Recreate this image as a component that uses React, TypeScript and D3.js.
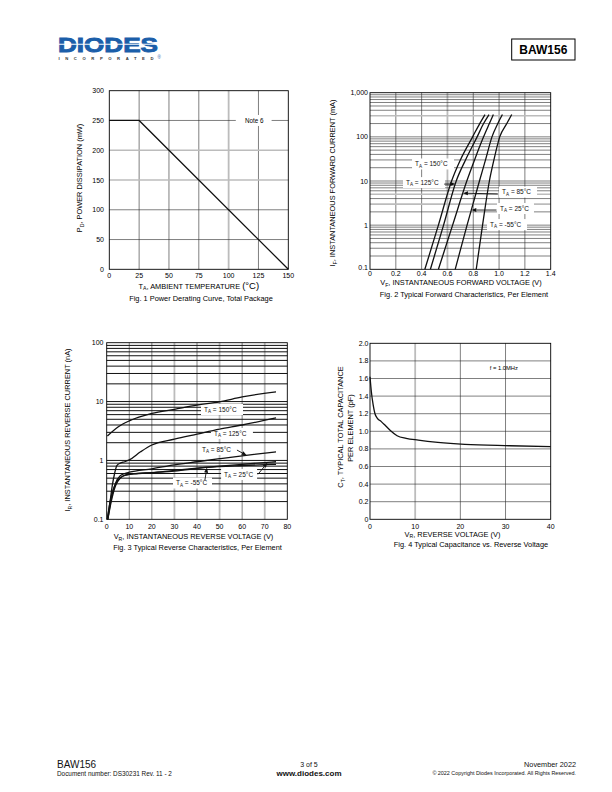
import React from 'react';
import * as d3 from 'd3';

const FONT = "'Liberation Sans', Arial, Helvetica, sans-serif";

// ---------- Fig. 1 Power derating ----------
const fig1Temp = [0, 25, 150];
const fig1Power = [250, 250, 0];
const fig1XTicks = [0, 25, 50, 75, 100, 125, 150];
const fig1YTicks = [0, 50, 100, 150, 200, 250, 300];

// ---------- Fig. 2 Forward characteristics (I in mA, V in volts) ----------
const fig2Current = [0.1, 1, 10, 30, 100, 200, 320];
const fig2V150 = [0.425, 0.53, 0.632, 0.7, 0.795, 0.85, 0.891];
const fig2V125 = [0.468, 0.57, 0.668, 0.74, 0.83, 0.88, 0.922];
const fig2V85 = [0.53, 0.64, 0.75, 0.81, 0.88, 0.925, 0.956];
const fig2V25 = [0.66, 0.752, 0.848, 0.895, 0.945, 0.99, 1.026];
const fig2Vm55 = [0.823, 0.872, 0.925, 0.96, 1.005, 1.06, 1.098];
const fig2XTicks = [0, 0.2, 0.4, 0.6, 0.8, 1.0, 1.2, 1.4];
const fig2YTicks = [0.1, 1, 10, 100, 1000];
const fig2YTickLabels = ['0.1', '1', '10', '100', '1,000'];

// ---------- Fig. 3 Reverse characteristics (V in volts, I in nA) ----------
const fig3V150 = [0.3, 5, 10, 20, 30, 40, 50, 60, 75];
const fig3I150 = [2.6, 3.7, 4.7, 6.3, 7.4, 8.7, 9.9, 12.0, 14.6];
const fig3V125 = [0.3, 1.5, 2.5, 3.5, 4.5, 6, 8, 10, 15, 20, 30, 40, 50, 60, 75];
const fig3I125 = [0.1, 0.2, 0.38, 0.6, 0.82, 0.9, 0.95, 1.02, 1.4, 1.83, 2.3, 2.8, 3.4, 4.0, 5.3];
const fig3V85 = [0.5, 2, 4, 6, 8, 10, 20, 30, 40, 50, 60, 75];
const fig3I85 = [0.1, 0.22, 0.42, 0.55, 0.6, 0.63, 0.72, 0.84, 0.95, 1.07, 1.2, 1.4];
const fig3V25 = [0.5, 2, 4, 6, 8, 10, 20, 30, 40, 50, 60, 75];
const fig3I25 = [0.1, 0.2, 0.38, 0.5, 0.56, 0.58, 0.62, 0.68, 0.74, 0.8, 0.86, 0.95];
const fig3Vm55 = [0.3, 1.5, 3, 5, 7, 9, 12, 20, 30, 44, 60, 75];
const fig3Im55 = [0.1, 0.2, 0.33, 0.46, 0.54, 0.57, 0.59, 0.62, 0.66, 0.76, 0.82, 0.86];
const fig3XTicks = [0, 10, 20, 30, 40, 50, 60, 70, 80];
const fig3YTicks = [0.1, 1, 10, 100];
const fig3YTickLabels = ['0.1', '1', '10', '100'];

// ---------- Fig. 4 Capacitance ----------
const fig4V = [0, 0.3, 0.7, 1.1, 1.6, 2.5, 3.5, 4.5, 6, 8, 10.7, 15, 21, 31, 40];
const fig4C = [1.62, 1.45, 1.3, 1.2, 1.15, 1.11, 1.06, 1.01, 0.95, 0.92, 0.9, 0.875, 0.852, 0.836, 0.825];
const fig4XTicks = [0, 10, 20, 30, 40];
const fig4YTicks = [0, 0.2, 0.4, 0.6, 0.8, 1.0, 1.2, 1.4, 1.6, 1.8, 2.0];

type Pt = [number, number];
const zip = (a: number[], b: number[]): Pt[] => a.map((v, i) => [v, b[i]]);

const DARK = '#2a2a2a';
const GRAY = '#bcbcbc';

function Sub({ s, size }: { s: string; size: number }) {
  return <tspan fontSize={size * 0.7} dy={size * 0.25}>{s}</tspan>;
}

function TaLabel({ x, y, t, w }: { x: number; y: number; t: string; w: number }) {
  return (
    <g>
      <rect x={x - 3} y={y - 5.5} width={w} height={11} fill="white" />
      <text x={x} y={y + 2.2} fontSize={6.5} fill="#111">
        T<tspan fontSize={4.6} dy={1.4}>A</tspan>
        <tspan dy={-1.4}>{` = ${t}°C`}</tspan>
      </text>
    </g>
  );
}

function Arrow({ x1, y1, x2, y2 }: { x1: number; y1: number; x2: number; y2: number }) {
  const a = Math.atan2(y2 - y1, x2 - x1);
  const L = 5, W = 2;
  const bx = x2 - L * Math.cos(a), by = y2 - L * Math.sin(a);
  const px = -Math.sin(a) * W, py = Math.cos(a) * W;
  return (
    <g>
      <line x1={x1} y1={y1} x2={bx} y2={by} stroke="#111" strokeWidth={0.9} />
      <path d={`M${x2},${y2}L${bx + px},${by + py}L${bx - px},${by - py}Z`} fill="#111" />
    </g>
  );
}

function Header() {
  return (
    <g>
      <text x={58} y={52} fontSize={21} fontWeight={900} fill="#1b5ea9" stroke="#1b5ea9" strokeWidth={0.9}
        textLength={100} lengthAdjust="spacingAndGlyphs">DIODES</text>
      <line x1={58} x2={158} y1={44.3} y2={44.3} stroke="white" strokeWidth={1.1} />
      <text x={58.5} y={60.3} fontSize={4.2} fill="#333" textLength={95} lengthAdjust="spacing" fontWeight={700}>INCORPORATED</text>
      <text x={157.5} y={58.5} fontSize={4.5} fill="#1b5ea9">®</text>
      <rect x={511.7} y={39} width={63.3} height={21} fill="none" stroke="#000" strokeWidth={1} />
      <text x={543.3} y={54.2} fontSize={12} fontWeight={700} textAnchor="middle">BAW156</text>
    </g>
  );
}

function Footer() {
  return (
    <g fill="#111">
      <text x={57} y={767.5} fontSize={10}>BAW156</text>
      <text x={57} y={775.8} fontSize={6.4}>Document number: DS30231 Rev. 11 - 2</text>
      <text x={309} y={766.8} fontSize={7} textAnchor="middle">3 of 5</text>
      <text x={309} y={775.5} fontSize={8} fontWeight={700} textAnchor="middle">www.diodes.com</text>
      <text x={576} y={766.8} fontSize={7.3} textAnchor="end">November 2022</text>
      <text x={576} y={774.8} fontSize={5.4} textAnchor="end">© 2022 Copyright Diodes Incorporated. All Rights Reserved.</text>
    </g>
  );
}

function Frame({ x, y }: { x: any; y: any }) {
  const [x0, x1] = x.range();
  const [y0, y1] = y.range();
  return <rect x={x0} y={y1} width={x1 - x0} height={y0 - y1} fill="none" stroke="#000" strokeWidth={0.9} />;
}

function VGrid({ x, y, vals, gray }: { x: any; y: any; vals: number[]; gray: number[] }) {
  const [y0, y1] = y.range();
  return (
    <g>
      {vals.map((v) => (
        <line key={v} x1={x(v)} x2={x(v)} y1={y0} y2={y1}
          stroke={gray.includes(v) ? GRAY : DARK}
          strokeWidth={gray.includes(v) ? 1.8 : 0.6} />
      ))}
    </g>
  );
}

function HGrid({ x, y, vals, gray, w = 0.6, col = DARK }: { x: any; y: any; vals: number[]; gray: number[]; w?: number; col?: string }) {
  const [x0, x1] = x.range();
  return (
    <g>
      {vals.map((v) => (
        <line key={v} y1={y(v)} y2={y(v)} x1={x0} x2={x1}
          stroke={gray.some((g) => Math.abs(g - v) < 1e-9) ? GRAY : col}
          strokeWidth={gray.some((g) => Math.abs(g - v) < 1e-9) ? 1.6 : w} />
      ))}
    </g>
  );
}

export default function App() {
  // Fig 1 scales
  const x1 = d3.scaleLinear().domain([0, 150]).range([109.3, 288.3]);
  const y1 = d3.scaleLinear().domain([0, 300]).range([269.3, 90.7]);
  const line1 = d3.line<Pt>().x((d) => x1(d[0])).y((d) => y1(d[1]));

  // Fig 2 scales
  const x2 = d3.scaleLinear().domain([0, 1.4]).range([370, 550.7]);
  const y2 = d3.scaleLog().domain([0.1, 1000]).range([269.3, 92.7]);
  const line2 = d3.line<Pt>().x((d) => x2(d[0])).y((d) => y2(d[1])).curve(d3.curveMonotoneX);

  // Fig 3 scales
  const x3 = d3.scaleLinear().domain([0, 80]).range([106.7, 287.3]);
  const y3 = d3.scaleLog().domain([0.1, 100]).range([519.3, 342.7]);
  const line3 = d3.line<Pt>().x((d) => x3(d[0])).y((d) => y3(d[1])).curve(d3.curveMonotoneX);

  // Fig 4 scales
  const x4 = d3.scaleLinear().domain([0, 40]).range([370, 550.7]);
  const y4 = d3.scaleLinear().domain([0, 2]).range([519.3, 343.3]);
  const line4 = d3.line<Pt>().x((d) => x4(d[0])).y((d) => y4(d[1])).curve(d3.curveMonotoneX);

  const fig2Curves = [fig2V150, fig2V125, fig2V85, fig2V25, fig2Vm55].map((vs) => zip(vs, fig2Current));
  const fig3Curves = [
    zip(fig3V150, fig3I150), zip(fig3V125, fig3I125), zip(fig3V85, fig3I85),
    zip(fig3V25, fig3I25), zip(fig3Vm55, fig3Im55),
  ];

  const tick = 7;
  const title = 7.4;

  return (
    <svg width={612} height={792} style={{ position: 'absolute', left: 0, top: 0 }} fontFamily={FONT}>
      <rect width={612} height={792} fill="white" />
      <Header />

      {/* ================= Fig 1 ================= */}
      <g>
        <VGrid x={x1} y={y1} vals={fig1XTicks.slice(1, -1)} gray={[100]} />
        <HGrid x={x1} y={y1} vals={fig1YTicks.slice(1, -1)} gray={[150, 200]} />
        <rect x={x1(106)} y={y1(250) - 5.5} width={x1(136) - x1(106)} height={11} fill="white" />
        <text x={x1(121.5)} y={y1(250) + 2.3} fontSize={6.3} textAnchor="middle">Note 6</text>
        <path d={line1(zip(fig1Temp, fig1Power)) || ''} fill="none" stroke="#111" strokeWidth={1.3} />
        <Frame x={x1} y={y1} />
        {fig1YTicks.map((v) => (
          <text key={v} x={104} y={y1(v) + 2.5} fontSize={tick} textAnchor="end">{v}</text>
        ))}
        {fig1XTicks.map((v) => (
          <text key={v} x={x1(v)} y={277.6} fontSize={tick} textAnchor="middle">{v}</text>
        ))}
        <text transform="translate(82,178) rotate(-90)" fontSize={title} textAnchor="middle">
          P<Sub s="D" size={title} /><tspan dy={-title * 0.25}>, POWER DISSIPATION (mW)</tspan>
        </text>
        <text x={198.8} y={288.6} fontSize={title} textAnchor="middle">
          T<Sub s="A" size={title} /><tspan dy={-title * 0.25}>, AMBIENT TEMPERATURE </tspan>
          <tspan fontSize={9.5}>(°C)</tspan>
        </text>
        <text x={201} y={300.8} fontSize={title} textAnchor="middle">Fig. 1  Power Derating Curve, Total Package</text>
      </g>

      {/* ================= Fig 2 ================= */}
      <g>
        <VGrid x={x2} y={y2} vals={fig2XTicks.slice(1, -1)} gray={[0.6]} />
        <HGrid x={x2} y={y2} vals={y2.ticks().filter((v: number) => v > 0.1 && v < 1000)} gray={[3, 5, 300]} />
        <Frame x={x2} y={y2} />
        <TaLabel x={x2(0.349)} y={y2(24.3)} t="150" w={42} />
        <TaLabel x={x2(0.279)} y={y2(9.2)} t="125" w={42} />
        <TaLabel x={x2(1.023)} y={y2(5.6)} t="85" w={38} />
        <TaLabel x={x2(1.007)} y={y2(2.38)} t="25" w={37} />
        <TaLabel x={x2(0.93)} y={y2(1.03)} t="-55" w={40} />
        {fig2Curves.map((c, i) => (
          <path key={i} d={line2(c) || ''} fill="none" stroke="#111" strokeWidth={1.3} />
        ))}
        <Arrow x1={x2(0.575)} y1={y2(8.5)} x2={x2(0.661)} y2={y2(8.5)} />
        <Arrow x1={x2(0.99)} y1={y2(5.1)} x2={x2(0.72)} y2={y2(5.3)} />
        <Arrow x1={x2(0.98)} y1={y2(2.2)} x2={x2(0.785)} y2={y2(2.2)} />
        {fig2YTicks.map((v, i) => (
          <text key={v} x={368} y={y2(v) + 2.5 - (i === 0 ? 1.5 : 0)} fontSize={tick} textAnchor="end">{fig2YTickLabels[i]}</text>
        ))}
        {fig2XTicks.map((v) => (
          <text key={v} x={x2(v)} y={276.3} fontSize={tick} textAnchor="middle">{v === 0 ? '0' : v.toFixed(1)}</text>
        ))}
        <text transform="translate(335.4,183) rotate(-90)" fontSize={title} textAnchor="middle">
          I<Sub s="F" size={title} /><tspan dy={-title * 0.25}>, INSTANTANEOUS FORWARD CURRENT (mA)</tspan>
        </text>
        <text x={461} y={285} fontSize={title} textAnchor="middle">
          V<Sub s="F" size={title} /><tspan dy={-title * 0.25}>, INSTANTANEOUS FORWARD VOLTAGE (V)</tspan>
        </text>
        <text x={464} y={297} fontSize={title} textAnchor="middle">Fig. 2  Typical Forward Characteristics, Per Element</text>
      </g>

      {/* ================= Fig 3 ================= */}
      <g>
        <VGrid x={x3} y={y3} vals={fig3XTicks.slice(1, -1)} gray={[30, 50, 70]} />
        <HGrid x={x3} y={y3} vals={y3.ticks().filter((v: number) => v > 0.1 && v < 100)} gray={[]} w={1} col="#111" />
        <Frame x={x3} y={y3} />
        <TaLabel x={x3(43.1)} y={y3(7.33)} t="150" w={42} />
        <TaLabel x={x3(47.5)} y={y3(2.87)} t="125" w={42} />
        <TaLabel x={x3(42.2)} y={y3(1.53)} t="85" w={37} />
        <TaLabel x={x3(52)} y={y3(0.577)} t="25" w={36} />
        <TaLabel x={x3(30.7)} y={y3(0.414)} t="-55" w={39} />
        {fig3Curves.map((c, i) => (
          <path key={i} d={line3(c) || ''} fill="none" stroke="#111" strokeWidth={1.3} />
        ))}
        <Arrow x1={x3(57.7)} y1={y3(1.5)} x2={x3(62)} y2={y3(1.22)} />
        <Arrow x1={x3(67)} y1={y3(0.58)} x2={x3(71.2)} y2={y3(0.915)} />
        <Arrow x1={x3(43.5)} y1={y3(0.465)} x2={x3(44.4)} y2={y3(0.755)} />
        {fig3YTicks.map((v, i) => (
          <text key={v} x={103.5} y={y3(v) + 2.5} fontSize={tick} textAnchor="end">{fig3YTickLabels[i]}</text>
        ))}
        {fig3XTicks.map((v) => (
          <text key={v} x={x3(v)} y={529.2} fontSize={tick} textAnchor="middle">{v}</text>
        ))}
        <text transform="translate(70,430) rotate(-90)" fontSize={title} textAnchor="middle">
          I<Sub s="R" size={title} /><tspan dy={-title * 0.25}>, INSTANTANEOUS REVERSE CURRENT (nA)</tspan>
        </text>
        <text x={193.5} y={538.8} fontSize={title} textAnchor="middle">
          V<Sub s="R" size={title} /><tspan dy={-title * 0.25}>, INSTANTANEOUS REVERSE VOLTAGE (V)</tspan>
        </text>
        <text x={197.5} y={550} fontSize={title} textAnchor="middle">Fig. 3  Typical Reverse Characteristics, Per Element</text>
      </g>

      {/* ================= Fig 4 ================= */}
      <g>
        <VGrid x={x4} y={y4} vals={fig4XTicks.slice(1, -1)} gray={[10]} />
        <HGrid x={x4} y={y4} vals={fig4YTicks.slice(1, -1)} gray={[]} />
        <Frame x={x4} y={y4} />
        <text x={x4(26.5)} y={y4(1.72) + 2} fontSize={5.8}>f = 1.0MHz</text>
        <path d={line4(zip(fig4V, fig4C)) || ''} fill="none" stroke="#111" strokeWidth={1.3} />
        {fig4YTicks.map((v) => (
          <text key={v} x={368.5} y={y4(v) + 2.5} fontSize={tick} textAnchor="end">{v === 0 ? '0' : v.toFixed(1)}</text>
        ))}
        {fig4XTicks.map((v) => (
          <text key={v} x={x4(v)} y={528.6} fontSize={tick} textAnchor="middle">{v}</text>
        ))}
        <text transform="translate(343.4,427) rotate(-90)" fontSize={title} textAnchor="middle">
          C<Sub s="T" size={title} /><tspan dy={-title * 0.25}>, TYPICAL TOTAL CAPACITANCE</tspan>
        </text>
        <text transform="translate(353.4,428) rotate(-90)" fontSize={title} textAnchor="middle">PER ELEMENT (pF)</text>
        <text x={452.5} y={536.6} fontSize={title} textAnchor="middle">
          V<Sub s="R" size={title} /><tspan dy={-title * 0.25}>, REVERSE VOLTAGE (V)</tspan>
        </text>
        <text x={471} y={547.2} fontSize={title} textAnchor="middle">Fig. 4  Typical Capacitance vs. Reverse Voltage</text>
      </g>

      <Footer />
    </svg>
  );
}
